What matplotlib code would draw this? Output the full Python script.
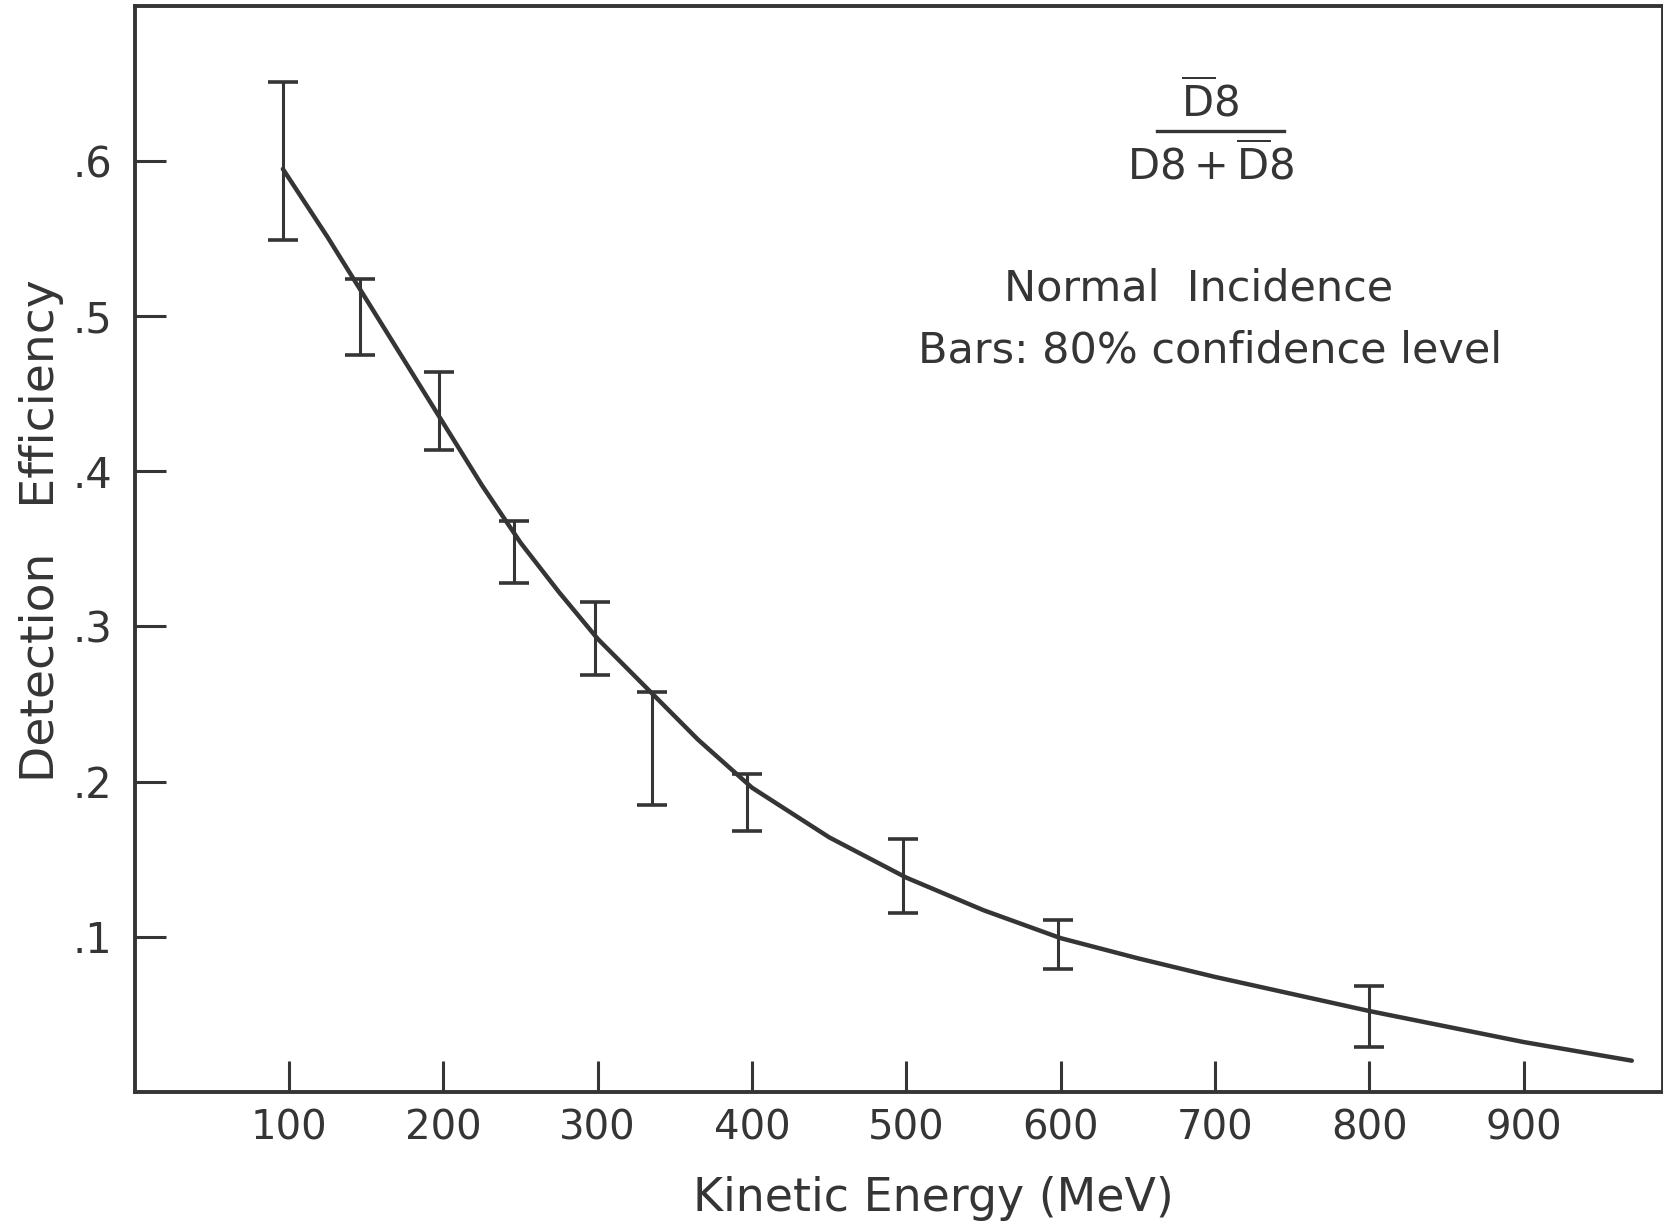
import matplotlib
matplotlib.use("Agg")
import matplotlib.pyplot as plt
from matplotlib.lines import Line2D

# ---- data ----
energy_pts = [96, 146, 197, 246, 298, 335, 397, 498, 598, 800]
eff_low = [0.549, 0.475, 0.414, 0.328, 0.269, 0.185, 0.168, 0.115, 0.079, 0.029]
eff_high = [0.651, 0.524, 0.464, 0.368, 0.316, 0.258, 0.205, 0.163, 0.111, 0.068]

curve_x = [96, 125, 150, 175, 200, 225, 250, 275, 300, 335, 365, 400, 450,
           500, 550, 600, 650, 700, 750, 800, 850, 900, 970]
curve_y = [0.595, 0.551, 0.511, 0.471, 0.431, 0.391, 0.354, 0.322, 0.292,
           0.257, 0.227, 0.196, 0.164, 0.138, 0.117, 0.099, 0.086, 0.074,
           0.063, 0.052, 0.042, 0.032, 0.020]

xticks = [100, 200, 300, 400, 500, 600, 700, 800, 900]
xtick_labels = ["100", "200", "300", "400", "500", "600", "700", "800", "900"]
yticks = [0.1, 0.2, 0.3, 0.4, 0.5, 0.6]
ytick_labels = [".1", ".2", ".3", ".4", ".5", ".6"]

ink = "#353535"
plt.rcParams["font.family"] = ["DejaVu Sans"]
plt.rcParams["mathtext.fontset"] = "dejavusans"

fig = plt.figure(figsize=(16.63, 12.28), dpi=100)
ax = fig.add_axes([0.081, 0.111, 0.9188, 0.884])

centers = [(lo + hi) / 2 for lo, hi in zip(eff_low, eff_high)]
errs = [(hi - lo) / 2 for lo, hi in zip(eff_low, eff_high)]
ax.errorbar(energy_pts, centers, yerr=errs, fmt="none", ecolor=ink,
            elinewidth=2.2, capsize=11, capthick=2.6)
ax.plot(curve_x, curve_y, color=ink, lw=3.2, solid_capstyle="round",
        solid_joinstyle="round")

ax.set_xlim(0, 990)
ax.set_ylim(0, 0.70)
ax.set_xticks(xticks)
ax.set_xticklabels(xtick_labels)
ax.set_yticks(yticks)
ax.set_yticklabels(ytick_labels)
ax.tick_params(direction="in", length=22, width=2.2, color=ink,
               labelsize=30, labelcolor=ink)
ax.tick_params(axis="y", pad=16)
ax.tick_params(axis="x", pad=12, labelsize=29)
for s in ax.spines.values():
    s.set_linewidth(2.8)
    s.set_color(ink)

ax.set_xlabel("Kinetic Energy (MeV)", fontsize=33, color=ink)
ax.xaxis.set_label_coords(0.523, -0.078)
ax.set_ylabel("Detection   Efficiency", fontsize=34, color=ink)
ax.yaxis.set_label_coords(-0.046, 0.517)

ax.text(0.704, 0.911, r"$\overline{\mathrm{D}}\mathrm{8}$", transform=ax.transAxes,
        ha="center", va="center", fontsize=30, color=ink)
ax.add_line(Line2D([0.669, 0.752], [0.885, 0.885], transform=ax.transAxes,
                   color=ink, lw=2.4))
ax.text(0.704, 0.853, r"$\mathrm{D8}+\overline{\mathrm{D}}\mathrm{8}$",
        transform=ax.transAxes, ha="center", va="center", fontsize=30, color=ink)
ax.text(0.696, 0.740, "Normal  Incidence", transform=ax.transAxes,
        ha="center", va="center", fontsize=31, color=ink)
ax.text(0.704, 0.683, "Bars: 80% confidence level", transform=ax.transAxes,
        ha="center", va="center", fontsize=31, color=ink)

fig.savefig("out.png", dpi=100, facecolor="white")
